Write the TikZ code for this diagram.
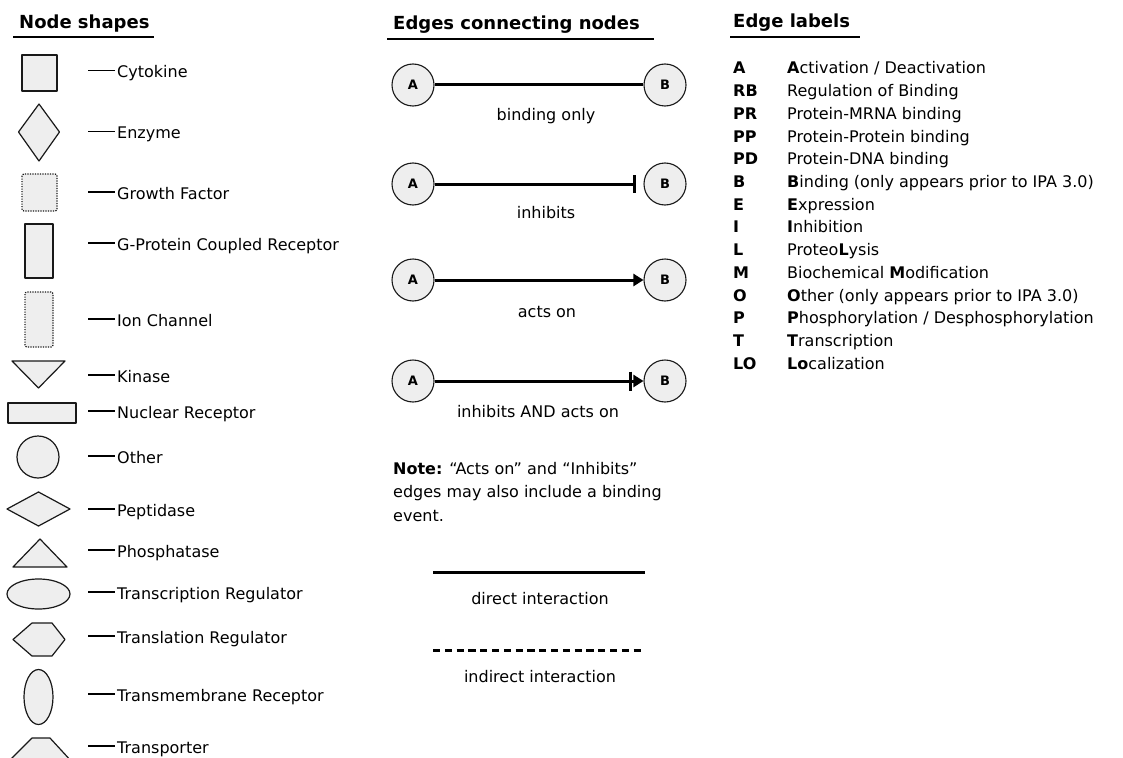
\documentclass[tikz,border=0pt]{standalone}
\usepackage{fontspec}
\setmainfont{DejaVu Sans}
\usetikzlibrary{arrows.meta}
\definecolor{shfill}{RGB}{238,238,238}
\definecolor{shline}{RGB}{25,25,25}
\newcommand\mydash{\rule[6.5pt]{27pt}{1.6pt}\hspace{2pt}}
\tikzset{
  glyph/.style={draw=shline, line width=1.2pt, fill=shfill, line join=round},
  dotline/.style={dash pattern=on 1.2pt off 1.3pt},
  lbl/.style={anchor=base west, inner sep=0pt, font=\fontsize{16}{19}\selectfont},
  clbl/.style={anchor=base, inner sep=0pt, font=\fontsize{16}{19}\selectfont},
  code/.style={anchor=base west, inner sep=0pt, font=\fontsize{16}{19}\selectfont\bfseries},
  head/.style={anchor=base west, inner sep=0pt, font=\fontsize{18}{21}\selectfont\bfseries},
  uline/.style={line width=1.5pt},
  abnode/.style={circle, draw=shline, line width=1.1pt, fill=shfill, minimum size=42pt, inner sep=0pt, font=\fontsize{13}{13}\selectfont\bfseries},
  inh/.style={-{Bar[width=18pt]}, shorten >=7pt},
  act/.style={-{Triangle[length=10pt,width=12pt]}},
  inhact/.style={-{Bar[width=19pt,sep=1.5pt] Triangle[length=10pt,width=12pt]}},
}
\begin{document}
\begin{tikzpicture}[x=1pt,y=-1pt]
\useasboundingbox (0,0) rectangle (1123,757);
\clip (0,0) rectangle (1123,757);
\fill[white] (0,0) rectangle (1123,757);

% ---------- Node shapes ----------
\node[head] (h1) at (19,29) {Node shapes};
\draw[uline] (13,37) -- (154,37);

\draw[glyph] (22,55) rectangle (57,91);
\draw[glyph] (39,104) -- (59.5,132) -- (39,161) -- (18.5,132) -- cycle;
\draw[glyph, dotline, rounded corners=2pt] (22,174) rectangle (57,211);
\draw[glyph] (25,224) rectangle (53,278);
\draw[glyph, dotline, rounded corners=2pt] (25,292) rectangle (53,347);
\draw[glyph] (12,361) -- (65,361) -- (38.5,388) -- cycle;
\draw[glyph] (8,403) rectangle (76,423);
\draw[glyph] (38,457) circle[radius=21pt];
\draw[glyph] (7,509) -- (38.5,492) -- (70,509) -- (38.5,526) -- cycle;
\draw[glyph] (13,567) -- (67,567) -- (40,539) -- cycle;
\draw[glyph] (38.5,594) ellipse[x radius=31.5pt, y radius=15pt];
\draw[glyph] (13,639.5) -- (32,623) -- (52,623) -- (65,639.5) -- (52,656) -- (32,656) -- cycle;
\draw[glyph] (38.5,697) ellipse[x radius=14.5pt, y radius=27.5pt];
\draw[glyph] (7,763) -- (32,738) -- (50,738) -- (73,763) -- cycle;

\node[lbl] (s1)  at (88,78)  {\mydash Cytokine};
\node[lbl] (s2)  at (88,139) {\mydash Enzyme};
\node[lbl] (s3)  at (88,199) {\mydash Growth Factor};
\node[lbl] (s4)  at (88,250) {\mydash G-Protein Coupled Receptor};
\node[lbl] (s5)  at (88,326) {\mydash Ion Channel};
\node[lbl] (s6)  at (88,382) {\mydash Kinase};
\node[lbl] (s7)  at (88,418) {\mydash Nuclear Receptor};
\node[lbl] (s8)  at (88,463) {\mydash Other};
\node[lbl] (s9)  at (88,516) {\mydash Peptidase};
\node[lbl] (s10) at (88,557) {\mydash Phosphatase};
\node[lbl] (s11) at (88,599) {\mydash Transcription Regulator};
\node[lbl] (s12) at (88,643) {\mydash Translation Regulator};
\node[lbl] (s13) at (88,701) {\mydash Transmembrane Receptor};
\node[lbl] (s14) at (88,753) {\mydash Transporter};

% ---------- Edges connecting nodes ----------
\node[head] (h2) at (393,30) {Edges connecting nodes};
\draw[uline] (387,39) -- (654,39);

\node[abnode] (a1) at (413,85) {A};
\node[abnode] (b1) at (665,85) {B};
\draw[line width=3pt] (a1) -- (b1);
\node[clbl] (e1) at (546,121) {binding only};

\node[abnode] (a2) at (413,184) {A};
\node[abnode] (b2) at (665,184) {B};
\draw[line width=3pt, inh] (a2) -- (b2);
\node[clbl] (e2) at (546,218) {inhibits};

\node[abnode] (a3) at (413,280) {A};
\node[abnode] (b3) at (665,280) {B};
\draw[line width=3pt, act] (a3) -- (b3);
\node[clbl] (e3) at (547,317) {acts on};

\node[abnode] (a4) at (413,381) {A};
\node[abnode] (b4) at (665,381) {B};
\draw[line width=3pt, inhact] (a4) -- (b4);
\node[clbl] (e4) at (538,417) {inhibits AND acts on};

\node[lbl] (n1) at (393,474) {\textbf{Note:} “Acts on” and “Inhibits”};
\node[lbl] (n2) at (393,497) {edges may also include a binding};
\node[lbl] (n3) at (393,521) {event.};

\coordinate (dirA) at (433,572);
\coordinate (dirB) at (645,572);
\draw[line width=3pt] (dirA) -- (dirB);
\node[clbl] (e5) at (540,604) {direct interaction};

\coordinate (indA) at (433,650);
\coordinate (indB) at (645,650);
\draw[line width=3pt, dash pattern=on 7.2pt off 4.6pt] (indA) -- (indB);
\node[clbl] (e6) at (540,682) {indirect interaction};

% ---------- Edge labels ----------
\node[head] (h3) at (733,28) {Edge labels};
\draw[uline] (730,37) -- (860,37);

\node[code] (c1)  at (733,74)    {A};
\node[code] (c2)  at (733,96.7)  {RB};
\node[code] (c3)  at (733,119.4) {PR};
\node[code] (c4)  at (733,142.1) {PP};
\node[code] (c5)  at (733,164.8) {PD};
\node[code] (c6)  at (733,187.5) {B};
\node[code] (c7)  at (733,210.2) {E};
\node[code] (c8)  at (733,232.9) {I};
\node[code] (c9)  at (733,255.6) {L};
\node[code] (c10) at (733,278.3) {M};
\node[code] (c11) at (733,301)   {O};
\node[code] (c12) at (733,323.7) {P};
\node[code] (c13) at (733,346.4) {T};
\node[code] (c14) at (733,369.1) {LO};

\node[lbl] (t1)  at (787,74)    {\textbf{A}ctivation / Deactivation};
\node[lbl] (t2)  at (787,96.7)  {Regulation of Binding};
\node[lbl] (t3)  at (787,119.4) {Protein-MRNA binding};
\node[lbl] (t4)  at (787,142.1) {Protein-Protein binding};
\node[lbl] (t5)  at (787,164.8) {Protein-DNA binding};
\node[lbl] (t6)  at (787,187.5) {\textbf{B}inding (only appears prior to IPA 3.0)};
\node[lbl] (t7)  at (787,210.2) {\textbf{E}xpression};
\node[lbl] (t8)  at (787,232.9) {\textbf{I}nhibition};
\node[lbl] (t9)  at (787,255.6) {Proteo\textbf{L}ysis};
\node[lbl] (t10) at (787,278.3) {Biochemical \textbf{M}odification};
\node[lbl] (t11) at (787,301)   {\textbf{O}ther (only appears prior to IPA 3.0)};
\node[lbl] (t12) at (787,323.7) {\textbf{P}hosphorylation / Desphosphorylation};
\node[lbl] (t13) at (787,346.4) {\textbf{T}ranscription};
\node[lbl] (t14) at (787,369.1) {\textbf{Lo}calization};
\end{tikzpicture}
\end{document}
